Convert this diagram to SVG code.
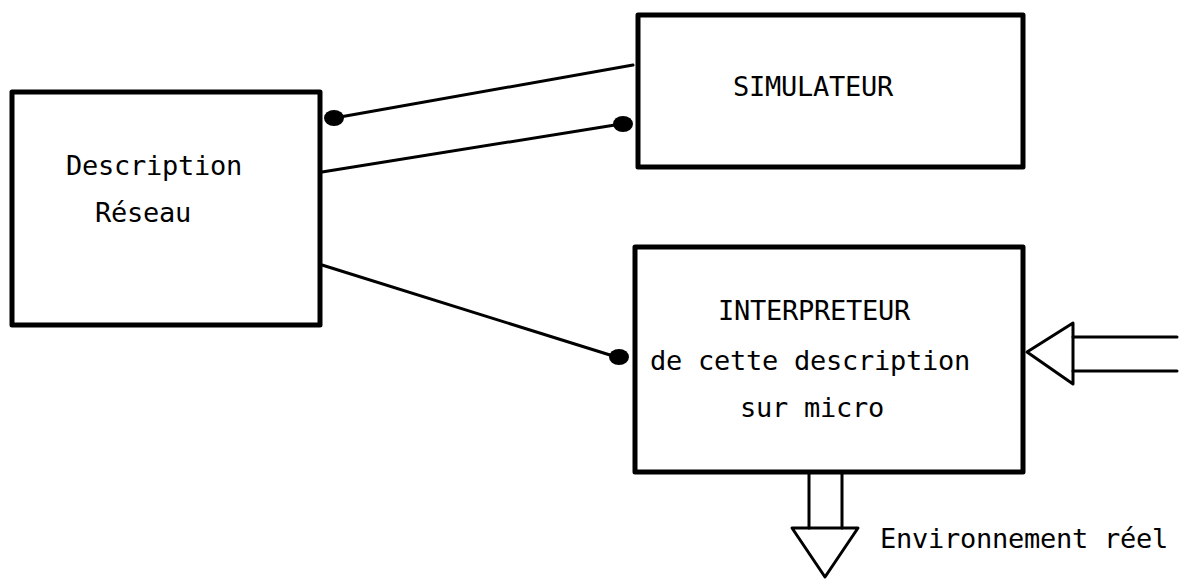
<svg xmlns="http://www.w3.org/2000/svg" width="1191" height="581" viewBox="0 0 1191 581">
  <style>
    .box { fill: none; stroke: #000; stroke-width: 5; stroke-linejoin: round; }
    .wire { fill: none; stroke: #000; stroke-width: 3; stroke-linecap: round; }
    .port { fill: none; stroke: #000; stroke-width: 3; stroke-linejoin: round; }
    .dot { fill: #000; }
    text { font-family: "DejaVu Sans Mono", "Liberation Mono", monospace; font-size: 27px; fill: #000; letter-spacing: -0.25px; }
  </style>
  <rect width="1191" height="581" fill="#fff"/>

  <!-- network description block -->
  <g id="description">
    <rect class="box" x="12" y="92" width="308" height="233"/>
    <text x="66" y="175">Description</text>
    <text x="95" y="222">Réseau</text>
  </g>

  <!-- simulator block -->
  <g id="simulateur">
    <rect class="box" x="638" y="15" width="385" height="152"/>
    <text x="733" y="96">SIMULATEUR</text>
  </g>

  <!-- interpreter block -->
  <g id="interpreteur">
    <rect class="box" x="635" y="247" width="388" height="225"/>
    <text x="718" y="320">INTERPRETEUR</text>
    <text x="650" y="370">de cette description</text>
    <text x="740" y="417">sur micro</text>
  </g>

  <!-- links between blocks -->
  <g id="connectors">
    <line class="wire" x1="633" y1="65" x2="340" y2="117"/>
    <ellipse class="dot" cx="334" cy="118" rx="10" ry="8"/>
    <line class="wire" x1="322" y1="172" x2="615" y2="125"/>
    <ellipse class="dot" cx="623" cy="124" rx="10" ry="8"/>
    <line class="wire" x1="322" y1="265" x2="610" y2="355"/>
    <ellipse class="dot" cx="619" cy="357" rx="10" ry="8"/>

    <!-- input from the right -->
    <polygon class="port" points="1027,352 1073,323 1073,384"/>
    <line class="wire" x1="1073" y1="337" x2="1177" y2="337"/>
    <line class="wire" x1="1073" y1="371" x2="1177" y2="371"/>

    <!-- output downward -->
    <line class="wire" x1="809" y1="472" x2="809" y2="528"/>
    <line class="wire" x1="842" y1="472" x2="842" y2="528"/>
    <polygon class="port" points="792,528 858,528 825,577"/>
  </g>

  <text x="880" y="548">Environnement réel</text>
</svg>
